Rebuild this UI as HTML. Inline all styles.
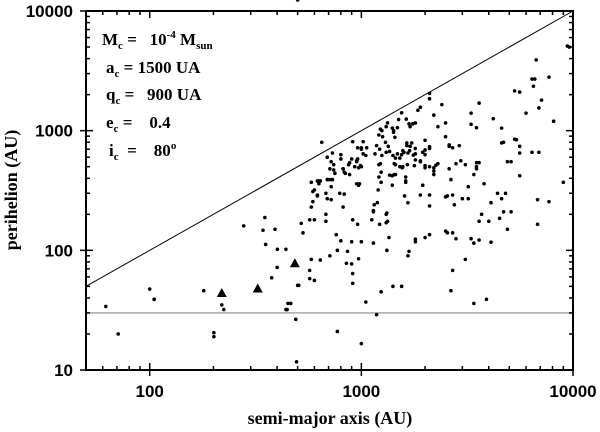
<!DOCTYPE html>
<html><head><meta charset="utf-8"><style>
html,body{margin:0;padding:0;background:#fff;}
svg{display:block;}
.tk{font-family:"Liberation Sans",Arial,sans-serif;font-weight:bold;font-size:17px;fill:#000;}
.ttl{font-family:"Liberation Serif","Times New Roman",serif;font-weight:bold;font-size:18px;fill:#000;}
.ann{font-family:"Liberation Serif","Times New Roman",serif;font-weight:bold;font-size:17px;fill:#000;white-space:pre;}
.sub{font-size:11px;}
</style></head><body>
<svg id="chart" width="600" height="432" viewBox="0 0 600 432">
<g id="annot">
<text class="ann" x="102" y="45" xml:space="preserve">M<tspan class="sub" dy="4">c</tspan><tspan dy="-4"> =   10</tspan><tspan class="sub" dy="-7">-4</tspan><tspan dy="7"> M</tspan><tspan class="sub" dy="4">sun</tspan></text>
<text class="ann" x="106" y="73" xml:space="preserve">a<tspan class="sub" dy="4">c</tspan><tspan dy="-4"> = 1500 UA</tspan></text>
<text class="ann" x="106" y="100" xml:space="preserve">q<tspan class="sub" dy="4">c</tspan><tspan dy="-4"> =   900 UA</tspan></text>
<text class="ann" x="106" y="128" xml:space="preserve">e<tspan class="sub" dy="4">c</tspan><tspan dy="-4"> =    0.4</tspan></text>
<text class="ann" x="109" y="156" xml:space="preserve">i<tspan class="sub" dy="4">c</tspan><tspan dy="-4">  =    80</tspan><tspan class="sub" dy="-7">o</tspan></text>
</g>
</svg>
<script>
const xDomain=[50,10000];
const yDomain=[10,10000];
const xTicks=[100,1000,10000];
const xTickLabels=["100","1000","10000"];
const yTicks=[10,100,1000,10000];
const yTickLabels=["10","100","1000","10000"];
const pointsA=[9400,9600,6700,6400,6600,7700,6500,5300,5600,7100,6000,6900,8100,3600,3300,3300,3500,4200,4600,5300,5400,4600,4700,5600,5600,6400,4900,5100,5600,3500,3600,3500,3500,3400,3800,3200,3000,3200,4400,4600,4100,4800,4700,5100,4500,4900,3600,3700,4000,3300,3400,3600,4100,3100,3400,3900,6800,6800,7700,6900,9000,
2400,2100,2100,2200,2300,2500,2500,2600,2600,2700,2900,2950,3100,2800,2600,2300,2250,2200,2200,2200,2100,2100,2000,2000,2000,2100,2000,2000,1900,1800,1800,1950,1900,1950,1900,2100,2100,2650,2700,2550,2500,2750,2500,2550,2700,2800,2000,2100,2700,2650,1550,1800,1800,1680,1660,
1900,1850,1800,1750,1680,1700,1630,1550,1500,1480,1420,1330,1310,1250,1230,1210,1260,1300,1340,1360,1310,1250,1220,1180,1160,1210,1240,1230,1240,1200,1190,1150,1140,1140,1120,1310,1320,1310,1330,1350,1320,1140,1220,1360,1400,1430,1450,1520,1560,1620,1600,1660,1620,1620,1430,1400,1450,1570,1650,1780,1800,1760,1690,1660,1590,1570,1640,1640,1700,1730,1520,1450,1480,1410,1440,1420,1400,1210,
1020,1000,1020,1050,1060,960,910,930,950,990,1000,970,980,950,970,960,950,900,880,870,880,830,820,820,840,800,800,730,720,740,740,750,720,700,710,680,690,720,790,830,820,680,680,600,570,580,590,620,620,600,590,620,630,640,580,690,730,910,960,760,800,900,1000,770,860,970,850,900,910,910,710,640,580,570,570,600,500,520,530,440,450,440,490,770,1000,1180,1240,1410,1550,690,720,630,650,1000,1050,
62,71,100,105,105,180,201,201,219,224,278,353,343,391,400,377,401,464,446,494,350,506,500];
const pointsQ=[5100,5000,3900,2700,2700,2800,2350,2150,2100,1800,1400,1550,1200,1700,1400,1130,1060,1260,1050,850,840,790,800,740,650,660,550,550,420,540,540,500,480,430,360,340,270,270,300,270,250,300,210,210,185,150,175,200,175,125,115,122,117,84,36,39,165,265,255,660,370,
1650,1850,2050,1350,1080,1160,890,760,740,720,750,560,520,530,480,530,515,490,460,430,735,710,690,630,830,500,510,490,560,640,570,660,550,350,290,290,235,390,290,285,280,240,145,140,140,125,128,135,68,46,50,124,118,98,90,
1570,1480,1160,1140,1140,1080,1250,1410,1240,1060,970,1160,1080,1000,1030,920,890,800,740,670,660,620,700,750,640,520,450,530,370,320,250,240,210,215,180,200,205,170,175,128,100,115,165,425,350,430,430,500,490,410,285,250,380,370,530,420,520,500,520,510,710,625,680,650,660,680,750,790,740,790,590,590,640,620,880,1000,1050,410,
810,720,640,620,720,720,810,500,560,510,500,490,360,360,350,580,550,580,540,520,430,450,480,480,440,630,580,650,550,520,470,440,390,390,480,300,270,265,300,295,230,200,175,180,180,230,255,290,285,320,310,380,380,380,370,390,390,180,165,135,120,118,118,100,98,85,78,77,64,53,90,83,84,68,58,56,51,168,140,102,36,32,26.5,21,16.6,29,45,50,630,600,340,360,800,700,
37,34,20,47.5,39,39,46,20.5,19,35,32,160,112,147,150,72,59,102,36,32,11.7,188,51];
const triA=[219,324,485];
const triQ=[44,48,78];
const hLineQ=30;

const L=86,R=573,T=11,B=370;
const lg=Math.log10;
function sx(a){return L+(lg(a)-lg(xDomain[0]))/(lg(xDomain[1])-lg(xDomain[0]))*(R-L);}
function sy(q){return B-(lg(q)-lg(yDomain[0]))/(lg(yDomain[1])-lg(yDomain[0]))*(B-T);}
const svg=document.getElementById('chart');
const NS='http://www.w3.org/2000/svg';
function mk(tag,attrs,parent){const e=document.createElementNS(NS,tag);for(const k in attrs)e.setAttribute(k,attrs[k]);(parent||svg).appendChild(e);return e;}

const diag=mk('line',{x1:sx(xDomain[0]),y1:sy(xDomain[0]),x2:sx(xDomain[1]),y2:sy(xDomain[1]),stroke:'#000','stroke-width':1});


const hl=mk('line',{x1:L,y1:sy(hLineQ),x2:R,y2:sy(hLineQ),stroke:'#a8a8a8','stroke-width':1.5});



const pg=mk('g',{});


for(let i=0;i<pointsA.length;i++){
  const c=mk('circle',{cx:sx(pointsA[i]),cy:sy(pointsQ[i]),r:1.8,fill:'#000'},pg);
  
  
}
for(let i=0;i<triA.length;i++){
  const x=sx(triA[i]),y=sy(triQ[i]);
  const t=mk('polygon',{points:`${x-5},${y+4} ${x+5},${y+4} ${x},${y-5}`,fill:'#000'});
  
  
}

const fr=mk('rect',{x:L,y:T,width:R-L,height:B-T,fill:'none',stroke:'#000','stroke-width':2});



const tg=mk('g',{stroke:'#000','stroke-width':1.5});


for(let d=10;d<=10000;d*=10){for(let m=1;m<10;m++){const v=d*m;if(v<xDomain[0]||v>xDomain[1])continue;const x=sx(v);const len=m===1?7:4;const out=m===1?6:0;
  mk('line',{x1:x,y1:B+out,x2:x,y2:B-len},tg);mk('line',{x1:x,y1:T,x2:x,y2:T+len},tg);}}
for(let d=10;d<=10000;d*=10){for(let m=1;m<10;m++){const v=d*m;if(v<yDomain[0]||v>yDomain[1])continue;const y=sy(v);const len=m===1?7:4;const out=m===1?6:0;
  mk('line',{x1:L-out,y1:y,x2:L+len,y2:y},tg);mk('line',{x1:R,y1:y,x2:R-len,y2:y},tg);}}

xTicks.forEach((v,i)=>{const t=mk('text',{x:sx(v),y:397,'text-anchor':'middle',class:'tk'});t.textContent=xTickLabels[i];
  
  });
yTicks.forEach((v,i)=>{const t=mk('text',{x:73,y:sy(v)+6,'text-anchor':'end',class:'tk'});t.textContent=yTickLabels[i];
  
  });

const xt=mk('text',{x:330,y:424,'text-anchor':'middle',class:'ttl'});xt.textContent='semi-major axis (AU)';


const yt=mk('text',{x:0,y:0,'text-anchor':'middle',class:'ttl',transform:'translate(17,190) rotate(-90)'});yt.textContent='perihelion (AU)';


svg.appendChild(document.getElementById('annot'));
</script>
</body></html>
